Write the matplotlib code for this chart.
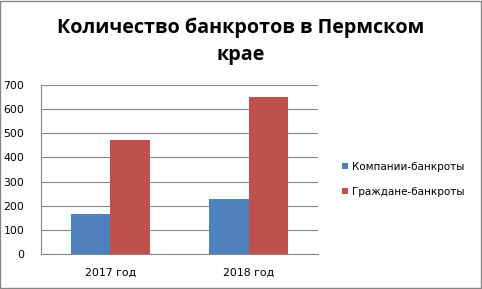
import matplotlib
matplotlib.use("Agg")
import matplotlib.pyplot as plt
import numpy as np
from matplotlib.patches import Rectangle

categories = ["2017 год", "2018 год"]
series_names = ["Компании-банкроты", "Граждане-банкроты"]
companies = [167, 228]
citizens = [472, 650]
yticks = [0, 100, 200, 300, 400, 500, 600, 700]
title = "Количество банкротов в Пермском\nкрае"

colors = ["#4F81BD", "#C0504D"]

fig = plt.figure(figsize=(4.82, 2.89), dpi=100)
fig.patch.set_facecolor("white")
fig.patches.append(Rectangle((0.001, 0.002), 0.997, 0.995, transform=fig.transFigure,
                             fill=False, edgecolor="#868686", linewidth=1.0))

ax = fig.add_axes([0.085, 0.121, 0.575, 0.585])
x = np.arange(len(categories))
w = 0.285
ax.bar(x - w/2, companies, w, color=colors[0], label=series_names[0], zorder=3)
ax.bar(x + w/2, citizens, w, color=colors[1], label=series_names[1], zorder=3)

ax.set_xlim(-0.5, 1.5)
ax.set_ylim(0, 700)
ax.set_yticks(yticks)
ax.set_xticks(x)
ax.set_xticklabels(categories)
ax.yaxis.grid(True, color="#878787", linewidth=0.8, zorder=0)
for s in ["top", "right"]:
    ax.spines[s].set_visible(False)
for s in ["left", "bottom"]:
    ax.spines[s].set_color("#878787")
    ax.spines[s].set_linewidth(0.8)
ax.tick_params(axis="both", labelsize=7.8, length=0, colors="black")
ax.tick_params(axis="x", pad=10)
ax.tick_params(axis="y", pad=12)
for lab in ax.get_yticklabels() + ax.get_xticklabels():
    lab.set_fontfamily("DejaVu Sans")

fig.text(0.5, 0.857, title, ha="center", va="center", fontsize=14.2,
         fontweight="bold", family="Open Sans", linespacing=1.45)

leg = fig.legend(loc="center left", bbox_to_anchor=(0.69, 0.38), frameon=False,
                 fontsize=7.5, handlelength=0.6, handleheight=0.6,
                 handletextpad=0.4, labelspacing=1.45)

fig.savefig("out.png", dpi=100)
